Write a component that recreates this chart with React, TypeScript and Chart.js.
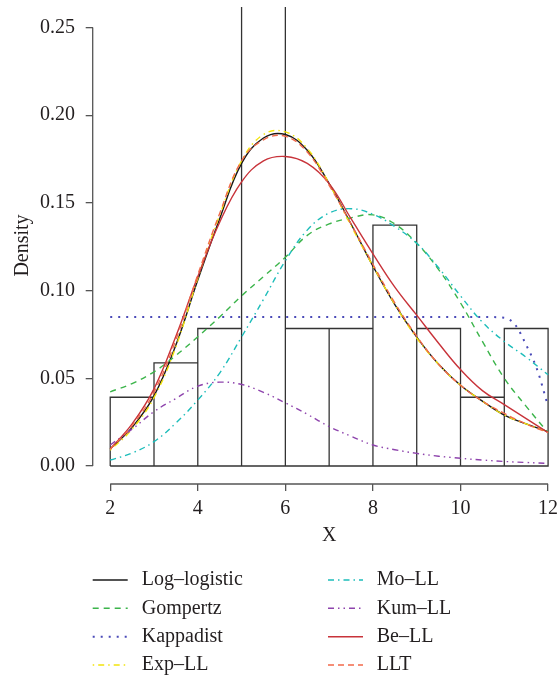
import { useEffect, useRef } from 'react';
import { Chart, registerables } from 'chart.js';

Chart.register(...registerables);

// ---------- data ----------
const X_GRID = [2, 2.5, 3, 3.5, 4, 4.5, 5, 5.5, 6, 6.5, 7, 7.5, 8, 8.5, 9, 9.5, 10, 10.5, 11, 11.5, 12];

const LOG_LOGISTIC = [0.0097, 0.022, 0.040, 0.069, 0.106, 0.141, 0.1725, 0.187, 0.189, 0.180, 0.161, 0.138, 0.114, 0.092, 0.0735, 0.058, 0.046, 0.037, 0.029, 0.024, 0.0195];
const GOMPERTZ = [0.0423, 0.047, 0.0537, 0.063, 0.0737, 0.085, 0.097, 0.108, 0.119, 0.1315, 0.138, 0.1415, 0.1432, 0.138, 0.127, 0.112, 0.093, 0.071, 0.050, 0.034, 0.019];
const EXP_LL = [0.009, 0.021, 0.039, 0.068, 0.107, 0.143, 0.174, 0.189, 0.1905, 0.181, 0.161, 0.137, 0.114, 0.092, 0.073, 0.058, 0.046, 0.037, 0.029, 0.024, 0.0195];
const MO_LL = [0.0034, 0.0074, 0.0139, 0.0245, 0.0376, 0.053, 0.0736, 0.095, 0.117, 0.1345, 0.1442, 0.1467, 0.1435, 0.1365, 0.127, 0.113, 0.097, 0.082, 0.071, 0.062, 0.052];
const KUM_LL = [0.012, 0.021, 0.031, 0.0385, 0.0455, 0.0478, 0.0465, 0.042, 0.036, 0.0295, 0.0225, 0.017, 0.012, 0.0093, 0.0072, 0.0056, 0.0044, 0.0034, 0.0026, 0.002, 0.0015];
const BE_LL = [0.0097, 0.024, 0.044, 0.074, 0.108, 0.139, 0.162, 0.174, 0.1765, 0.1725, 0.161, 0.141, 0.121, 0.102, 0.086, 0.070, 0.055, 0.043, 0.035, 0.027, 0.019];
const LLT = [0.0095, 0.023, 0.042, 0.072, 0.109, 0.144, 0.174, 0.186, 0.188, 0.179, 0.160, 0.138, 0.115, 0.093, 0.074, 0.058, 0.046, 0.037, 0.030, 0.024, 0.019];

const KAPPA_X = [2, 10.5, 11, 11.25, 11.5, 11.75, 12];
const KAPPADIST = [0.085, 0.085, 0.0845, 0.0805, 0.069, 0.055, 0.034];

const BIN_EDGES = [2, 3, 4, 5, 6, 7, 8, 9, 10, 11, 12];
const DENSITY = [0.0392, 0.0588, 0.0784, 0.3333, 0.0784, 0.0784, 0.1373, 0.0784, 0.0392, 0.0784];

const X_TICKS = [2, 4, 6, 8, 10, 12];
const Y_TICKS = [0, 0.05, 0.1, 0.15, 0.2, 0.25];

const SERIES_NAMES = ['Log–logistic', 'Gompertz', 'Kappadist', 'Exp–LL', 'Mo–LL', 'Kum–LL', 'Be–LL', 'LLT'];

// ---------- styles ----------
const TEXT = '#231F20';
const AXIS = '#555555';
const FONT = '"Liberation Serif", "DejaVu Serif", serif';

const SERIES = [
  { name: SERIES_NAMES[0], xs: X_GRID, ys: LOG_LOGISTIC, color: '#1a1a1a', dash: [] as number[], mono: false },
  { name: SERIES_NAMES[1], xs: X_GRID, ys: GOMPERTZ, color: '#3BB44A', dash: [6, 5], mono: false },
  { name: SERIES_NAMES[2], xs: KAPPA_X, ys: KAPPADIST, color: '#4A4AB8', dash: [2, 6], mono: true },
  { name: SERIES_NAMES[3], xs: X_GRID, ys: EXP_LL, color: '#F2E40C', dash: [1.5, 4, 6, 4], mono: false },
  { name: SERIES_NAMES[4], xs: X_GRID, ys: MO_LL, color: '#1DBDBA', dash: [6, 4, 1.5, 4], mono: false },
  { name: SERIES_NAMES[5], xs: X_GRID, ys: KUM_LL, color: '#8E44AD', dash: [6, 4, 1.5, 4, 1.5, 4], mono: false },
  { name: SERIES_NAMES[6], xs: X_GRID, ys: BE_LL, color: '#C8333A', dash: [] as number[], mono: false },
  { name: SERIES_NAMES[7], xs: X_GRID, ys: LLT, color: '#F26A4B', dash: [6, 4], mono: false },
];

const decorPlugin = {
  id: 'decor',
  afterDraw(chart: any) {
    const { ctx, chartArea, scales } = chart;
    const x = scales.x;
    const y = scales.y;
    ctx.save();
    // axis lines (R style: only between first and last tick)
    ctx.strokeStyle = AXIS;
    ctx.lineWidth = 1.3;
    ctx.setLineDash([]);
    ctx.beginPath();
    ctx.moveTo(x.getPixelForValue(X_TICKS[0]), chartArea.bottom);
    ctx.lineTo(x.getPixelForValue(X_TICKS[X_TICKS.length - 1]), chartArea.bottom);
    ctx.moveTo(chartArea.left, y.getPixelForValue(Y_TICKS[0]));
    ctx.lineTo(chartArea.left, y.getPixelForValue(Y_TICKS[Y_TICKS.length - 1]));
    ctx.stroke();

    // axis titles
    ctx.fillStyle = TEXT;
    ctx.font = `20px ${FONT}`;
    ctx.textAlign = 'center';
    ctx.textBaseline = 'middle';
    ctx.fillText('X', (chartArea.left + chartArea.right) / 2, 536);
    ctx.save();
    ctx.translate(23, (chartArea.top + chartArea.bottom) / 2);
    ctx.rotate(-Math.PI / 2);
    ctx.fillText('Density', 0, 0);
    ctx.restore();

    // legend, two columns
    const rowY = [580, 608.3, 636.7, 665];
    const colLine = [92.7, 328];
    const lineLen = 35;
    const colText = [141.7, 376.7];
    ctx.textAlign = 'left';
    SERIES.forEach((s, i) => {
      const col = i < 4 ? 0 : 1;
      const row = i % 4;
      const yy = rowY[row];
      ctx.strokeStyle = s.color;
      ctx.lineWidth = s.dash.length === 2 && s.dash[0] === 2 ? 2 : 1.5;
      ctx.setLineDash(s.dash);
      ctx.beginPath();
      ctx.moveTo(colLine[col], yy);
      ctx.lineTo(colLine[col] + lineLen, yy);
      ctx.stroke();
      ctx.setLineDash([]);
      ctx.fillStyle = TEXT;
      ctx.fillText(s.name, colText[col], yy);
    });
    ctx.restore();
  },
};

export default function App() {
  const ref = useRef<HTMLCanvasElement | null>(null);

  useEffect(() => {
    if (!ref.current) return;

    const histPoints: { x: number; y: number | null }[] = [];
    DENSITY.forEach((d, i) => {
      const a = BIN_EDGES[i];
      const b = BIN_EDGES[i + 1];
      histPoints.push({ x: a, y: 0 }, { x: a, y: d }, { x: b, y: d }, { x: b, y: 0 }, { x: a, y: 0 }, { x: b, y: null });
    });

    const datasets: any[] = [
      {
        label: 'Histogram',
        data: histPoints,
        borderColor: '#333333',
        borderWidth: 1.3,
        pointRadius: 0,
        tension: 0,
        spanGaps: false,
        order: 50,
      },
      ...SERIES.map((s, i) => ({
        label: s.name,
        data: s.xs.map((xv, j) => ({ x: xv, y: s.ys[j] })),
        borderColor: s.color,
        borderDash: s.dash,
        borderWidth: s.dash.length === 2 && s.dash[0] === 2 ? 2 : 1.4,
        pointRadius: 0,
        tension: 0.4,
        cubicInterpolationMode: s.mono ? 'monotone' : 'default',
        order: 20 - i,
      })),
    ];

    const chart = new Chart(ref.current, {
      type: 'line',
      data: { datasets },
      plugins: [decorPlugin],
      options: {
        responsive: false,
        devicePixelRatio: 1,
        animation: false,
        layout: { padding: { top: 7, left: 0, right: 14.4, bottom: 0 } },
        plugins: { legend: { display: false }, tooltip: { enabled: false } },
        font: { family: FONT },
        scales: {
          x: {
            type: 'linear',
            min: 1.6,
            max: 12.4,
            afterBuildTicks: (s: any) => {
              s.ticks = X_TICKS.map((v) => ({ value: v }));
            },
            afterFit: (s: any) => {
              s.height = 193;
              s.paddingLeft = 0;
              s.paddingRight = 0;
              s.paddingTop = 0;
              s.paddingBottom = 0;
            },
            ticks: {
              autoSkip: false,
              maxRotation: 0,
              padding: 5.5,
              color: TEXT,
              font: { family: FONT, size: 20 },
              callback: (v: any) => String(v),
            },
            grid: { drawOnChartArea: false, drawTicks: true, tickLength: 7, color: AXIS, lineWidth: 1.3 },
            border: { display: false },
          },
          y: {
            type: 'linear',
            min: -0.01026,
            max: 0.2617,
            afterBuildTicks: (s: any) => {
              s.ticks = Y_TICKS.map((v) => ({ value: v }));
            },
            afterFit: (s: any) => {
              s.width = 92.7;
              s.paddingLeft = 0;
              s.paddingRight = 0;
              s.paddingTop = 0;
              s.paddingBottom = 0;
            },
            ticks: {
              autoSkip: false,
              padding: 10.7,
              color: TEXT,
              font: { family: FONT, size: 20 },
              callback: (v: any) => Number(v).toFixed(2),
            },
            grid: { drawOnChartArea: false, drawTicks: true, tickLength: 7, color: AXIS, lineWidth: 1.3 },
            border: { display: false },
          },
        },
      } as any,
    });

    return () => chart.destroy();
  }, []);

  return (
    <div style={{ position: 'fixed', left: 0, top: 0, width: 557, height: 677, overflow: 'hidden', background: '#fff' }}>
      <canvas ref={ref} width={580} height={677} style={{ display: 'block' }} />
    </div>
  );
}
